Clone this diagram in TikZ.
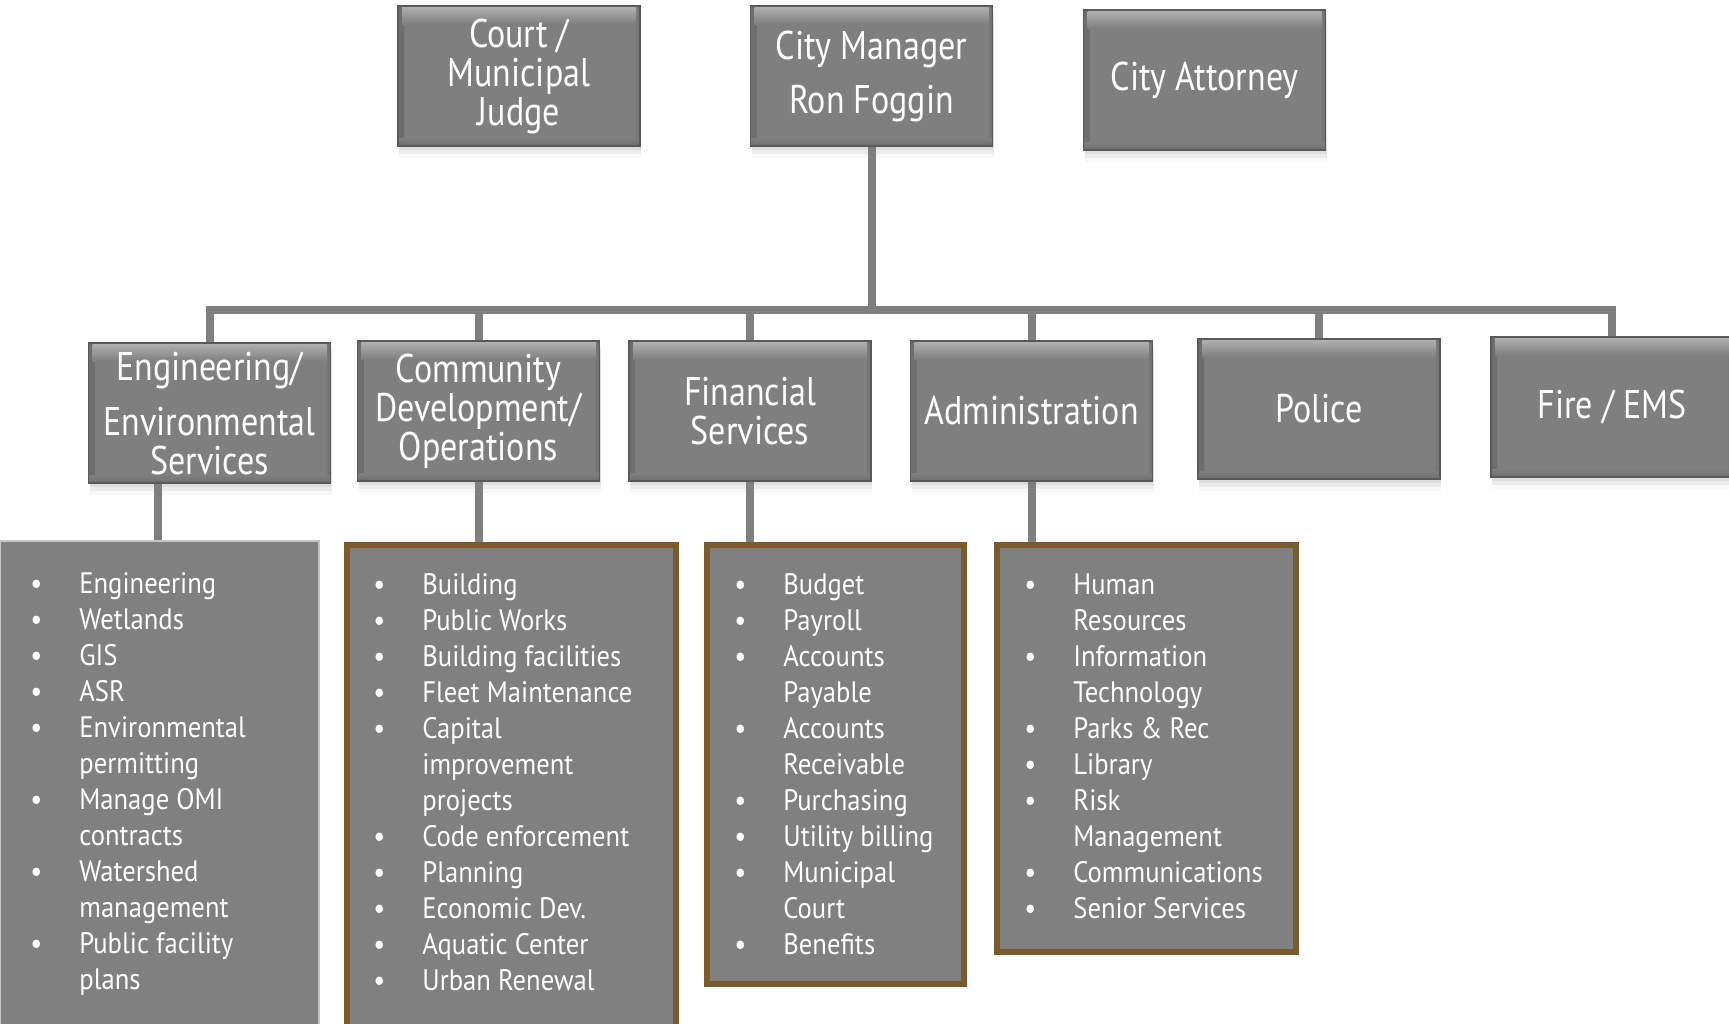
\documentclass[tikz,border=0pt]{standalone}
\usepackage{fontspec}
\setmainfont{PT Sans}
\newfontfamily\condfont{PT Sans}[FakeStretch=0.85]
\newfontfamily\itemfont{PT Sans}[FakeStretch=0.9]
\usetikzlibrary{shadows,backgrounds}

\definecolor{boxgray}{HTML}{7F7F7F}
\definecolor{boxlight}{HTML}{AEAEAE}
\definecolor{boxdark}{HTML}{6E6E6E}
\definecolor{boxedge}{HTML}{595959}
\definecolor{linkgray}{HTML}{7F7F7F}
\definecolor{listgray}{HTML}{808080}
\definecolor{listbrown}{HTML}{7B5A2B}
\definecolor{listedge}{HTML}{C4C4C4}

\newcommand{\headfont}{\condfont\fontsize{20}{19.5}\selectfont}
\newcommand{\listfont}{\itemfont\fontsize{14.8}{18}\selectfont}

\tikzset{
  unit/.style={rectangle, draw=boxedge, line width=0.8pt, fill=boxgray, text=white,
    minimum width=121pt, minimum height=70pt, inner sep=2pt, align=center, font=\headfont,
    drop shadow={opacity=0.12, shadow xshift=0.5pt, shadow yshift=-2pt},
    drop shadow={opacity=0.1, shadow xshift=0.5pt, shadow yshift=-4pt},
    drop shadow={opacity=0.06, shadow xshift=0.5pt, shadow yshift=-6pt},
    path picture={
      % bevel of the box
      \shade[left color=boxdark, right color=boxgray]
        (path picture bounding box.south west) rectangle ([xshift=3pt]path picture bounding box.north west);
      \shade[left color=boxgray, right color=boxdark]
        ([xshift=-3pt]path picture bounding box.south east) rectangle (path picture bounding box.north east);
      \shade[top color=boxgray, bottom color=boxdark]
        (path picture bounding box.south west) rectangle ([yshift=4pt]path picture bounding box.south east);
      \shade[top color=boxlight, bottom color=boxgray]
        ([shift={(2pt,-0.8pt)}]path picture bounding box.north west) rectangle ([shift={(-2pt,-9pt)}]path picture bounding box.north east);
    }},
  link/.style={draw=linkgray, line width=4pt},
  listbox/.style={rectangle, fill=listgray, draw=listbrown, line width=3pt},
  listtext/.style={anchor=north west, inner sep=0pt, text=white, font=\listfont},
}

\begin{document}
\begin{tikzpicture}[x=0.5pt,y=-0.5pt]
\useasboundingbox (0,0) rectangle (1729,1023);

% Top row
\node[unit] (court) at (519,76) {Court /\\Municipal\\Judge};
\node[unit] (cm) at (871.5,76) {City Manager\\[7.5pt]Ron Foggin};
\node[unit] (ca) at (1204.5,80) {City Attorney};

% Departments
\node[unit] (eng) at (209.5,413) {Engineering/\\[8pt]Environmental\\Services};
\node[unit] (comm) at (478.5,411) {Community\\Development/\\Operations};
\node[unit] (fin) at (750,411) {Financial\\Services};
\node[unit] (admin) at (1031.5,411) {Administration};
\node[unit] (police) at (1319,409) {Police};
\node[unit] (fire) at (1612,407) {Fire / EMS};

% Lists of duties
\node[listbox, draw=listedge, line width=0.6pt, minimum width=159.5pt, minimum height=246pt] (eng-list) at (159.5,787) {};
\node[listbox, minimum width=164.5pt, minimum height=248pt] (comm-list) at (511.5,793) {};
\node[listbox, minimum width=128.5pt, minimum height=219.5pt] (fin-list) at (835.5,764.5) {};
\node[listbox, minimum width=149.5pt, minimum height=203.5pt] (admin-list) at (1146.5,748.5) {};

\node[listtext] (eng-items) at (30,568) {\begin{tabular}{@{}p{24.5pt}@{}l@{}}
\textbullet & Engineering\\
\textbullet & Wetlands\\
\textbullet & GIS\\
\textbullet & ASR\\
\textbullet & Environmental\\
 & permitting\\
\textbullet & Manage OMI\\
 & contracts\\
\textbullet & Watershed\\
 & management\\
\textbullet & Public facility\\
 & plans
\end{tabular}};

\node[listtext] (comm-items) at (373,569) {\begin{tabular}{@{}p{24.5pt}@{}l@{}}
\textbullet & Building\\
\textbullet & Public Works\\
\textbullet & Building facilities\\
\textbullet & Fleet Maintenance\\
\textbullet & Capital\\
 & improvement\\
 & projects\\
\textbullet & Code enforcement\\
\textbullet & Planning\\
\textbullet & Economic Dev.\\
\textbullet & Aquatic Center\\
\textbullet & Urban Renewal
\end{tabular}};

\node[listtext] (fin-items) at (734,569) {\begin{tabular}{@{}p{24.5pt}@{}l@{}}
\textbullet & Budget\\
\textbullet & Payroll\\
\textbullet & Accounts\\
 & Payable\\
\textbullet & Accounts\\
 & Receivable\\
\textbullet & Purchasing\\
\textbullet & Utility billing\\
\textbullet & Municipal\\
 & Court\\
\textbullet & Benefits
\end{tabular}};

\node[listtext] (admin-items) at (1024,569) {\begin{tabular}{@{}p{24.5pt}@{}l@{}}
\textbullet & Human\\
 & Resources\\
\textbullet & Information\\
 & Technology\\
\textbullet & Parks \& Rec\\
\textbullet & Library\\
\textbullet & Risk\\
 & Management\\
\textbullet & Communications\\
\textbullet & Senior Services
\end{tabular}};

% Connectors
\begin{scope}[on background layer]
  \coordinate (bus) at (0,310);
  \draw[link] (cm.south) -- (cm.south |- bus);
  \draw[link] (eng.north) -- (eng.north |- bus) -- (fire.north |- bus) -- (fire.north);
  \foreach \d in {comm,fin,admin,police}
    \draw[link] (\d.north) -- (\d.north |- bus);
  \draw[link] ([xshift=-25.75pt]eng.south) -- ([xshift=-25.75pt]eng.south |- eng-list.north);
  \foreach \d in {comm,fin,admin}
    \draw[link] (\d.south) -- (\d.south |- \d-list.north);
\end{scope}

\end{tikzpicture}
\end{document}
